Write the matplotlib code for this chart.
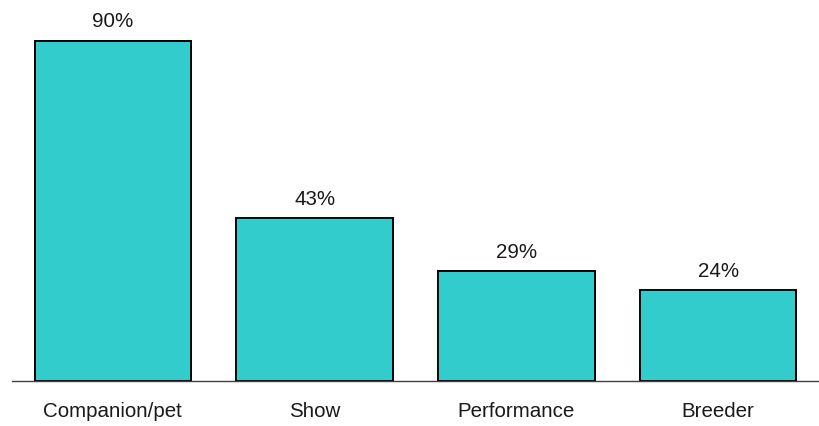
import matplotlib.pyplot as plt

categories = ["Companion/pet", "Show", "Performance", "Breeder"]
values = [90, 43, 29, 24]
labels = ["90%", "43%", "29%", "24%"]

plt.rcParams['font.family'] = ['Liberation Sans', 'DejaVu Sans']

fig = plt.figure(figsize=(8.19, 4.26), dpi=100)
ax = fig.add_axes([12 / 819, 45 / 426, 807 / 819, 381 / 426])

x = range(len(categories))
bars = ax.bar(x, values, width=0.775, color="#33CCCC", edgecolor="black", linewidth=1.4, zorder=2)

for b, lab in zip(bars, labels):
    ax.annotate(lab, (b.get_x() + b.get_width() / 2, b.get_height()),
                xytext=(0, 7), textcoords="offset points",
                ha="center", va="bottom", fontsize=14.8, color="#1a1a1a")

ax.set_xlim(-0.5, len(categories) - 0.5)
ax.set_ylim(0, 100.8)
ax.set_xticks(list(x))
ax.set_xticklabels(categories, fontsize=14.8, color="#1a1a1a")
ax.tick_params(axis="x", length=0, pad=15)
ax.set_yticks([])
for s in ["top", "right", "left"]:
    ax.spines[s].set_visible(False)
ax.spines["bottom"].set_color("#404040")
ax.spines["bottom"].set_linewidth(1.0)
ax.spines["bottom"].set_zorder(3)

fig.savefig("out.png", dpi=100)
